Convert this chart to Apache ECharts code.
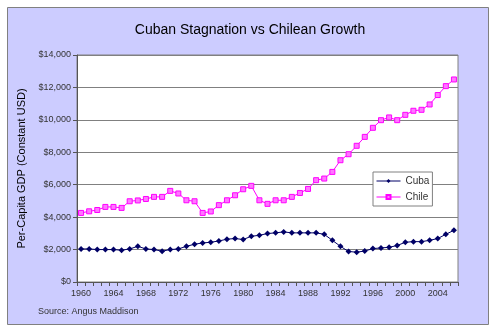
<!DOCTYPE html>
<html>
<head>
<meta charset="utf-8">
<script src="https://cdn.jsdelivr.net/npm/echarts@6/dist/echarts.min.js"></script>
<style>html,body{margin:0;padding:0;background:#fff}#c{width:500px;height:334px}</style>
</head>
<body>
<div id="c"></div>
<script>
var years = [];
for (var y = 1960; y <= 2006; y++) years.push(String(y));
var cuba = [2040,2040,2000,2000,2000,1960,2040,2200,2040,2000,1900,2000,2040,2200,2330,2410,2450,2530,2640,2680,2620,2820,2880,2990,3030,3090,3030,3030,3030,3030,2940,2570,2200,1880,1840,1910,2060,2100,2140,2250,2450,2490,2490,2570,2680,2940,3190];
var chile = [4260,4360,4440,4630,4630,4570,4980,5030,5120,5250,5250,5620,5460,5040,4980,4260,4350,4740,5040,5350,5720,5930,5040,4820,5040,5040,5250,5490,5740,6280,6380,6790,7510,7880,8400,8950,9510,9980,10150,9980,10310,10560,10620,10950,11530,12080,12490];
var yTicks = [0,2000,4000,6000,8000,10000,12000,14000];

var chart = echarts.init(document.getElementById('c'), null, {renderer:'canvas'});
var font = 'Liberation Sans, Arial, sans-serif';
chart.setOption({
  backgroundColor: '#fff',
  animation: false,
  graphic: [
    {type:'rect', z:-10, shape:{x:7.5,y:7.5,width:481,height:317}, style:{fill:'#CCCCFF', stroke:'#808080', lineWidth:1}},
    {type:'text', left:38, top:307, style:{text:'Source: Angus Maddison', font:'9px ' + font, fill:'#333'}}
  ],
  title: {
    text: 'Cuban Stagnation vs Chilean Growth',
    left: 'center', top: 18,
    textStyle: {fontFamily: font, fontSize: 14, fontWeight: 'normal', color: '#000'}
  },
  legend: {
    orient: 'vertical', left: 373, top: 172,
    backgroundColor: '#fff', borderColor: '#808080', borderWidth: 1,
    padding: [4, 3, 4, 3], itemGap: 6, itemWidth: 24, itemHeight: 5,
    lineStyle: {width: 1},
    textStyle: {fontFamily: font, fontSize: 10, color: '#333'},
    data: ['Cuba', 'Chile']
  },
  grid: {left: 77, right: 42, top: 55, bottom: 52, show: true, backgroundColor: '#fff', borderColor: '#808080', borderWidth: 1},
  xAxis: {
    type: 'category', data: years, boundaryGap: true,
    axisLine: {lineStyle: {color: '#555'}},
    axisTick: {show: true, interval: 0, length: 4, lineStyle: {color: '#555'}},
    axisLabel: {interval: 3, fontFamily: font, fontSize: 9, color: '#333', margin: 7}
  },
  yAxis: {
    type: 'value', min: 0, max: 14000, interval: 2000,
    name: 'Per-Capita GDP (Constant USD)', nameLocation: 'middle', nameGap: 50,
    nameTextStyle: {fontFamily: font, fontSize: 11, color: '#000'},
    axisLine: {show: true, lineStyle: {color: '#555'}},
    axisTick: {show: true, length: 4, lineStyle: {color: '#555'}},
    splitLine: {lineStyle: {color: '#808080'}},
    axisLabel: {fontFamily: font, fontSize: 9, color: '#333', margin: 6,
      formatter: function (v) { return '$' + v.toLocaleString('en-US'); }}
  },
  series: [
    {name: 'Cuba', type: 'line', data: cuba, symbol: 'diamond', symbolSize: 6, showAllSymbol: true,
     lineStyle: {color: '#000066', width: 1}, itemStyle: {color: '#000066'}},
    {name: 'Chile', type: 'line', data: chile, symbol: 'rect', symbolSize: 5, showAllSymbol: true,
     lineStyle: {color: '#FF00FF', width: 1}, itemStyle: {color: '#FF77FF', borderColor: '#FF00FF', borderWidth: 1}}
  ]
});
</script>
</body>
</html>
